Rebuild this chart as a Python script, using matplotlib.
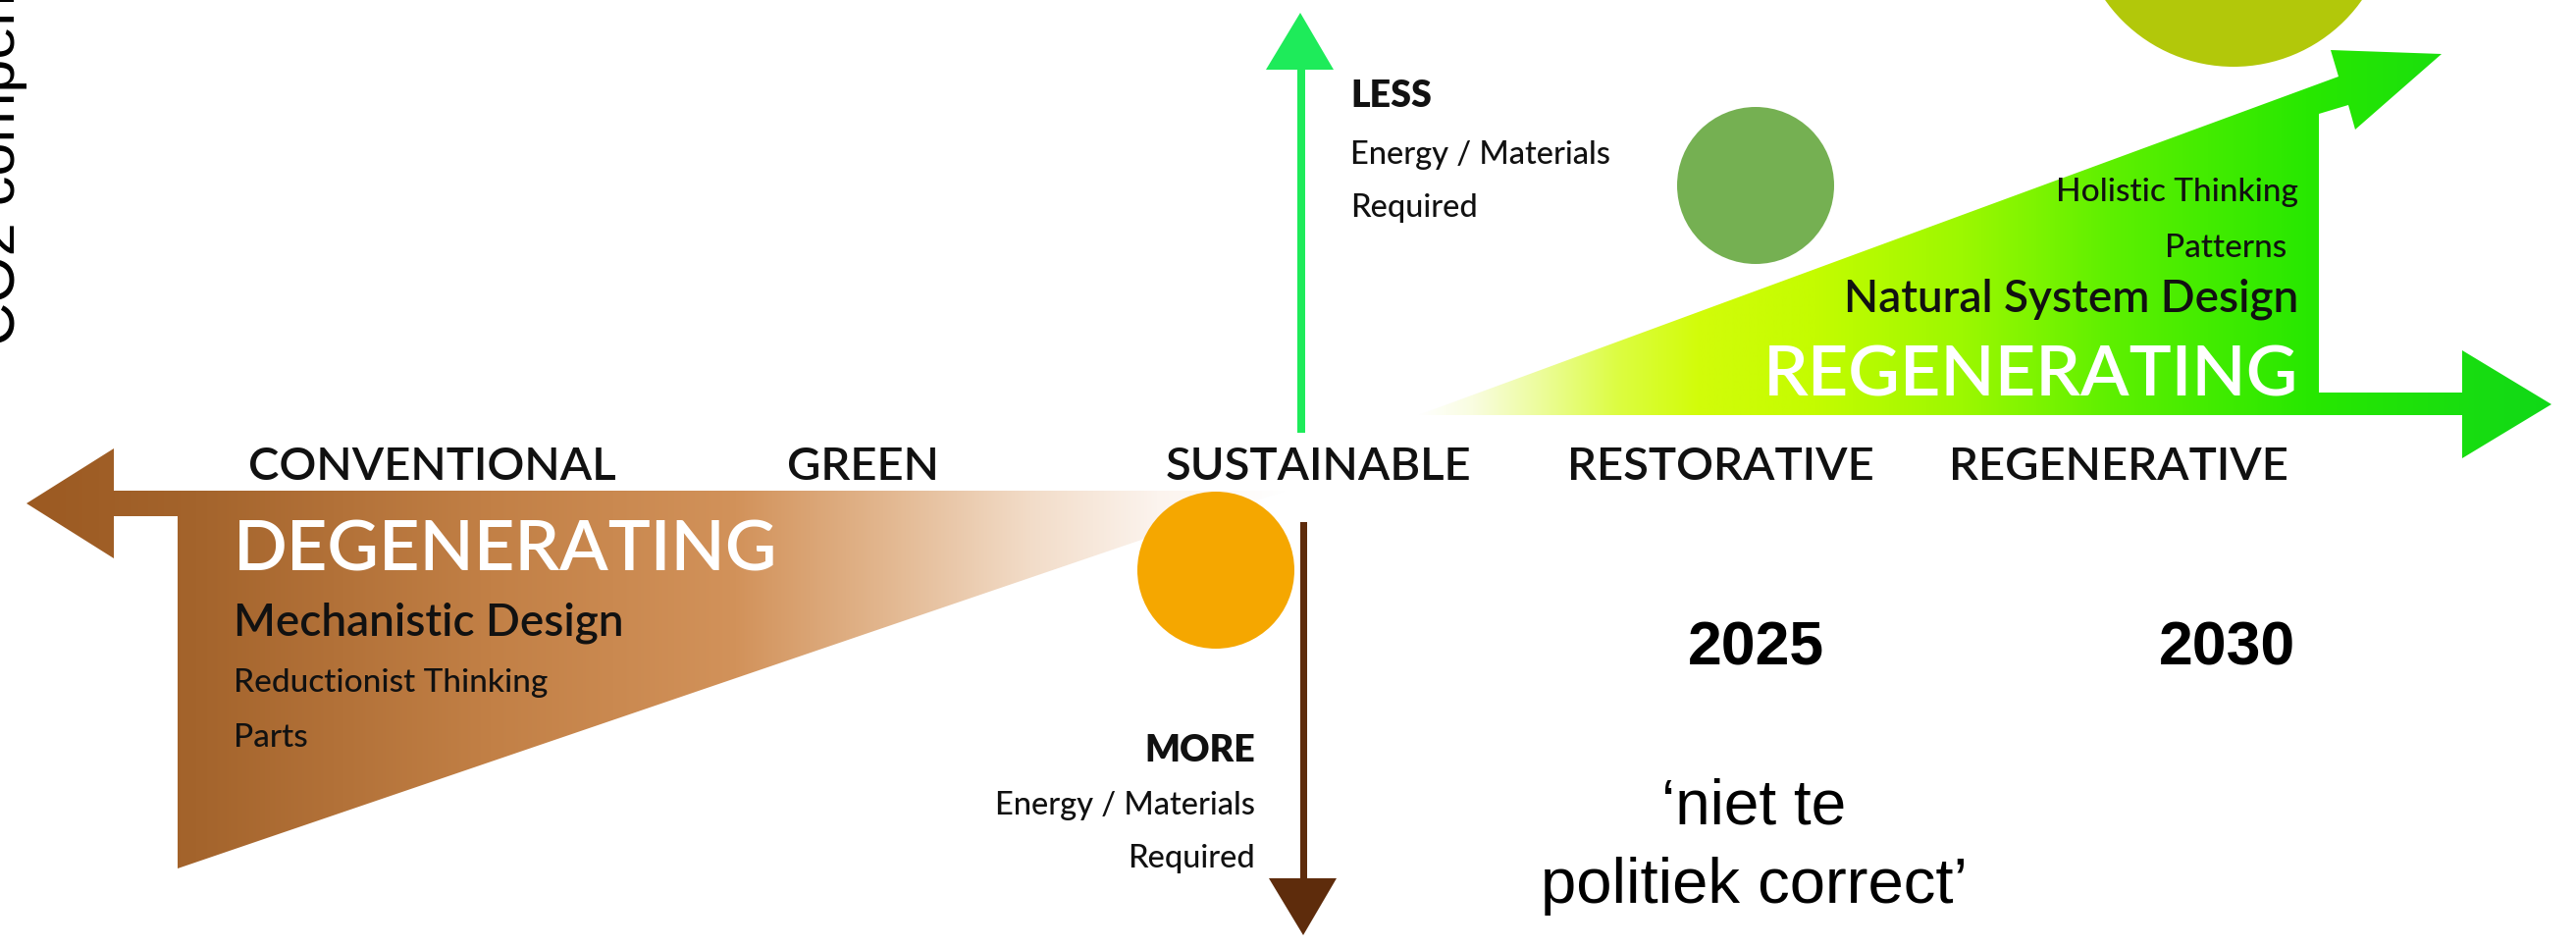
import numpy as np
import matplotlib
matplotlib.use("Agg")
import matplotlib.pyplot as plt
from matplotlib.patches import Polygon, Circle

# ---------------- content ----------------
stages = ["CONVENTIONAL", "GREEN", "SUSTAINABLE", "RESTORATIVE", "REGENERATIVE"]
stage_x = [440, 879, 1343, 1753, 2159]
years = ["2025", "2030"]
year_x = [1789, 2270]
left_block = ["DEGENERATING", "Mechanistic Design", "Reductionist Thinking", "Parts"]
right_block = ["Holistic Thinking", "Patterns", "Natural System Design", "REGENERATING"]
less_block = ["LESS", "Energy / Materials", "Required"]
more_block = ["MORE", "Energy / Materials", "Required"]
note_lines = ["\u2018niet te", "politiek correct\u2019"]
side_label = "CO2 compensatie"

# circles: (x, y, r, colour)
circles = [(1239, 581, 80, "#F5A700"), (1789, 189, 80, "#75B052"), (2276, -92, 160, "#B2C80A")]

W, H = 2625, 964
fig = plt.figure(figsize=(W / 100, H / 100), dpi=100)
ax = fig.add_axes([0, 0, 1, 1])
ax.axis("off")

SANS = ["Lato", "DejaVu Sans"]
HELV = ["Liberation Sans", "DejaVu Sans"]
INK = "#111111"


def gradient_fill(points, stops, zorder=1):
    poly = Polygon(points, closed=True, fc="none", ec="none", zorder=zorder)
    ax.add_patch(poly)
    xs = np.array([p[0] for p in points])
    ys = np.array([p[1] for p in points])
    x0, x1 = xs.min(), xs.max()
    cols = np.linspace(x0, x1, 800)
    sx = np.array([s[0] for s in stops], float)
    sc = np.array([s[1] for s in stops], float) / 255.0
    img = np.stack([np.interp(cols, sx, sc[:, k]) for k in range(3)], axis=-1)
    im = ax.imshow(img[np.newaxis, :, :], extent=(x0, x1, ys.max(), ys.min()),
                   aspect="auto", interpolation="bilinear", zorder=zorder)
    im.set_clip_path(poly)


# brown degenerating arrow/triangle
brown_pts = [(27, 513), (116, 457), (116, 500), (1310, 500), (181, 885),
             (181, 526), (116, 526), (116, 569)]
brown_stops = [(0, (154, 88, 32)), (200, (164, 100, 44)), (500, (194, 128, 70)),
               (750, (210, 146, 90)), (900, (226, 182, 142)), (1050, (242, 220, 200)),
               (1180, (252, 244, 238)), (1310, (255, 255, 255))]
gradient_fill(brown_pts, brown_stops)

# green regenerating arrow/triangle
green_pts = [(1445, 423), (2383, 78), (2375, 51), (2488, 55), (2400, 132), (2393, 107),
             (2363, 116), (2363, 400), (2509, 400), (2509, 357), (2600, 412),
             (2509, 467), (2509, 423)]
green_stops = [(1445, (255, 255, 255)), (1500, (249, 253, 224)), (1570, (236, 252, 154)),
               (1650, (220, 253, 64)), (1730, (210, 252, 10)), (1850, (196, 252, 0)),
               (2000, (156, 248, 0)), (2150, (94, 240, 0)), (2350, (40, 232, 0)),
               (2600, (16, 216, 24))]
gradient_fill(green_pts, green_stops)

# vertical arrows
gc = "#1EEB5A"
ax.add_patch(Polygon([(1322, 441), (1322, 70), (1330, 70), (1330, 441)], closed=True, fc=gc, ec="none", zorder=2))
ax.add_patch(Polygon([(1290, 71), (1325, 13), (1359, 71)], closed=True, fc=gc, ec="none", zorder=2))
bc = "#5E2C0C"
ax.add_patch(Polygon([(1325, 532), (1325, 896), (1332, 896), (1332, 532)], closed=True, fc=bc, ec="none", zorder=2))
ax.add_patch(Polygon([(1293, 895), (1328, 953), (1362, 895)], closed=True, fc=bc, ec="none", zorder=2))

# circles
for cx, cy, r, c in circles:
    ax.add_patch(Circle((cx, cy), r, fc=c, ec="none", zorder=3))

# stage labels
for s, x in zip(stages, stage_x):
    ax.text(x, 489, s, ha="center", va="baseline", fontsize=34, family=SANS,
            fontweight="semibold", color=INK, zorder=5)

# left block
ax.text(238, 581, left_block[0], ha="left", va="baseline", fontsize=52, family=SANS,
        fontweight="semibold", color="white", zorder=5)
ax.text(238, 648, left_block[1], ha="left", va="baseline", fontsize=33, family=SANS,
        fontweight="semibold", color=INK, zorder=5)
ax.text(238, 705, left_block[2], ha="left", va="baseline", fontsize=24, family=SANS,
        fontweight="medium", color=INK, zorder=5)
ax.text(238, 761, left_block[3], ha="left", va="baseline", fontsize=24, family=SANS,
        fontweight="medium", color=INK, zorder=5)

# right block
ax.text(2342, 205, right_block[0], ha="right", va="baseline", fontsize=24, family=SANS,
        fontweight="medium", color=INK, zorder=5)
ax.text(2330, 262, right_block[1], ha="right", va="baseline", fontsize=24, family=SANS,
        fontweight="medium", color=INK, zorder=5)
ax.text(2342, 317, right_block[2], ha="right", va="baseline", fontsize=33, family=SANS,
        fontweight="semibold", color=INK, zorder=5)
ax.text(2342, 404, right_block[3], ha="right", va="baseline", fontsize=52, family=SANS,
        fontweight="semibold", color="white", zorder=5)

# less / more
for t, yb, w, fs in zip(less_block, [109, 167, 221], ["heavy", "medium", "medium"], [27, 23.5, 23.5]):
    ax.text(1376, yb, t, ha="left", va="baseline", fontsize=fs, family=SANS, fontweight=w, color=INK, zorder=5)
for t, yb, w, fs in zip(more_block, [776, 830, 884], ["heavy", "medium", "medium"], [27, 23.5, 23.5]):
    ax.text(1279, yb, t, ha="right", va="baseline", fontsize=fs, family=SANS, fontweight=w, color=INK, zorder=5)

# years and note
for y, x in zip(years, year_x):
    ax.text(x, 678, y, ha="center", va="baseline", fontsize=45, family=HELV, fontweight="bold", color="black", zorder=5)
ax.text(1787, 840, note_lines[0], ha="center", va="baseline", fontsize=46, family=HELV, color="black", zorder=5)
ax.text(1787, 920, note_lines[1], ha="center", va="baseline", fontsize=47, family=HELV, color="black", zorder=5)

# rotated side label (cut by the figure edge, as in the source)
ax.text(15, 352, side_label, rotation=90, rotation_mode="anchor", ha="left", va="baseline",
        fontsize=44, family=HELV, color="black", zorder=5)

ax.set_xlim(0, W)
ax.set_ylim(H, 0)
fig.savefig("out.png", dpi=100)
